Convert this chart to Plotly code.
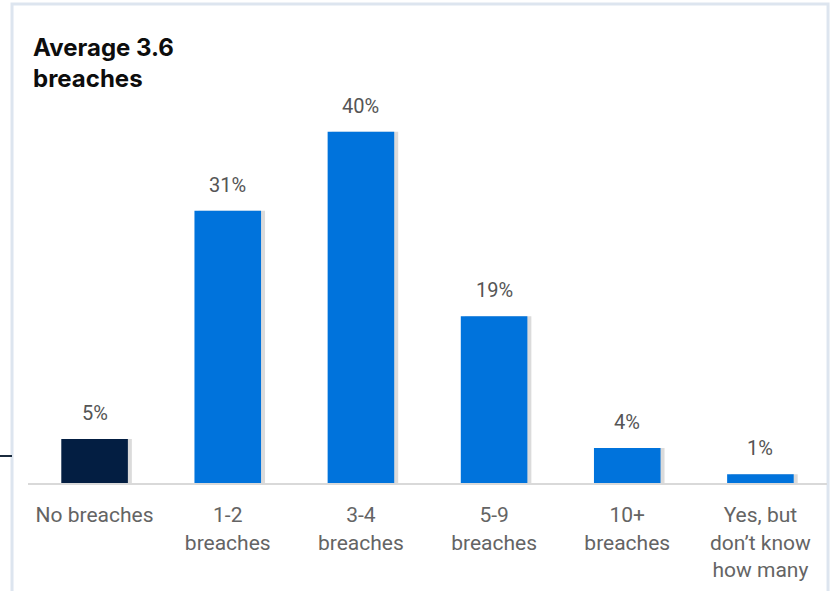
import plotly.graph_objects as go

categories = ["No breaches", "1-2<br>breaches", "3-4<br>breaches", "5-9<br>breaches", "10+<br>breaches", "Yes, but<br>don’t know<br>how many"]
values = [5, 31, 40, 19, 4, 1]
labels = ["5%", "31%", "40%", "19%", "4%", "1%"]
colors = ["#031e42", "#0073dc", "#0073dc", "#0073dc", "#0073dc", "#0073dc"]

fig = go.Figure()
# soft shadow
fig.add_trace(go.Bar(x=categories, y=values, width=0.5, offset=-0.22,
                     marker=dict(color="rgba(0,0,0,0.14)", line=dict(width=0)),
                     hoverinfo="skip", showlegend=False))
fig.add_trace(go.Bar(x=categories, y=values, width=0.5, offset=-0.25,
                     marker=dict(color=colors, line=dict(width=0)),
                     showlegend=False))

annotations = [dict(text="<b>Average 3.6<br>breaches</b>", xref="paper", yref="paper",
                    x=0.004, y=1.03, xanchor="left", yanchor="top", align="left", showarrow=False,
                    font=dict(family="Inter", size=24, color="#0d0d0d", weight=900))]
for c, v, t in zip(categories, values, labels):
    annotations.append(dict(x=c, y=v, text=t, xref="x", yref="y", showarrow=False,
                            yanchor="bottom", yshift=12,
                            font=dict(family="Roboto", size=20, color="#555555")))

fig.update_layout(
    width=833, height=591,
    margin=dict(l=28, r=6, t=44, b=108),
    paper_bgcolor="white", plot_bgcolor="white",
    barmode="overlay",
    xaxis=dict(showgrid=False, showline=True, linecolor="#d9d9d9", linewidth=2,
               ticks="", ticklabelstandoff=12,
               tickfont=dict(family="Roboto", size=21, color="#646464")),
    yaxis=dict(range=[0, 50], visible=False),
    annotations=annotations,
    shapes=[
        dict(type="rect", xref="paper", yref="paper", x0=-0.02, x1=1.0013, y0=-0.3, y1=1.091,
             line=dict(color="#dde5ef", width=3), layer="below"),
        dict(type="line", xref="paper", yref="paper", x0=-0.04, x1=-0.02, y0=0.0615, y1=0.0615,
             line=dict(color="#1b2b3d", width=2)),
    ],
)

fig.write_html("out.html")
